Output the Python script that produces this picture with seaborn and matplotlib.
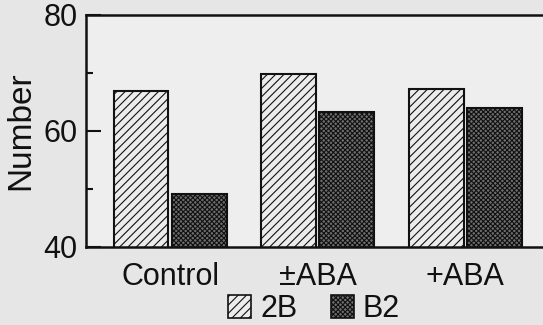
import matplotlib
matplotlib.use("Agg")
import matplotlib.pyplot as plt
from matplotlib.patches import Patch
from matplotlib.ticker import FixedLocator
import seaborn as sns
import pandas as pd

# ---- data ----
treatments = ["Control", "±ABA", "+ABA"]
series_names = ["2B", "B2"]
values_2B = [66.9, 69.8, 67.2]
values_B2 = [49.1, 63.2, 64.0]
y_major = [40, 60, 80]
y_minor = [50, 70]

df = pd.DataFrame({
    "treatment": treatments * 2,
    "number": values_2B + values_B2,
    "type": [series_names[0]] * 3 + [series_names[1]] * 3,
})

sns.set_theme(style="white")
plt.rcParams["font.family"] = ["Liberation Sans", "DejaVu Sans"]
plt.rcParams["hatch.linewidth"] = 0.8
plt.rcParams["text.color"] = "#111111"
plt.rcParams["axes.labelcolor"] = "#111111"
plt.rcParams["xtick.color"] = "#111111"
plt.rcParams["ytick.color"] = "#111111"

fig = plt.figure(figsize=(5.43, 3.25), dpi=100, facecolor="#e6e6e6")
ax = fig.add_axes([85.7 / 543, 1 - 246.7 / 325, 1 - 85.7 / 543, (246.7 - 15) / 325])
ax.set_facecolor("#eeeeee")

sns.barplot(data=df, x="treatment", y="number", hue="type", order=treatments,
            hue_order=series_names, width=0.79, gap=0.06, ax=ax, legend=False,
            errorbar=None)

styles = [
    dict(facecolor="#ececec", hatch="////", edgecolor="#111111"),
    dict(facecolor="#6e6e6e", hatch="xxxxxxx", edgecolor="#111111"),
]
for cont, st in zip(ax.containers, styles):
    for p in cont:
        p.set_facecolor(st["facecolor"])
        p.set_edgecolor(st["edgecolor"])
        p.set_hatch(st["hatch"])
        p.set_linewidth(1.5)

ax.set_ylim(40, 80)
ax.set_xlim(-0.572, 2.526)
ax.yaxis.set_major_locator(FixedLocator(y_major))
ax.yaxis.set_minor_locator(FixedLocator(y_minor))
ax.tick_params(axis="y", which="major", direction="in", length=11, width=1.5,
               labelsize=22, pad=6, left=True)
ax.tick_params(axis="y", which="minor", direction="in", length=5, width=1.5, left=True)
ax.tick_params(axis="x", length=0, labelsize=22, pad=11)
ax.set_xlabel("")
ax.set_ylabel("Number", fontsize=24, labelpad=5)

for s in ["left", "bottom", "top"]:
    ax.spines[s].set_visible(True)
    ax.spines[s].set_color("#111111")
    ax.spines[s].set_linewidth(1.8)
ax.spines["right"].set_visible(False)

handles = [Patch(facecolor=st["facecolor"], edgecolor="#111111", hatch=st["hatch"],
                 linewidth=1.2) for st in styles]
fig.legend(handles, series_names, loc="center", bbox_to_anchor=(314 / 543, 1 - 309 / 325),
           ncol=2, frameon=False, fontsize=22, handlelength=0.75, handleheight=0.75,
           handletextpad=0.3, columnspacing=1.1, borderpad=0, borderaxespad=0)

fig.savefig("out.png", dpi=100, facecolor=fig.get_facecolor())
